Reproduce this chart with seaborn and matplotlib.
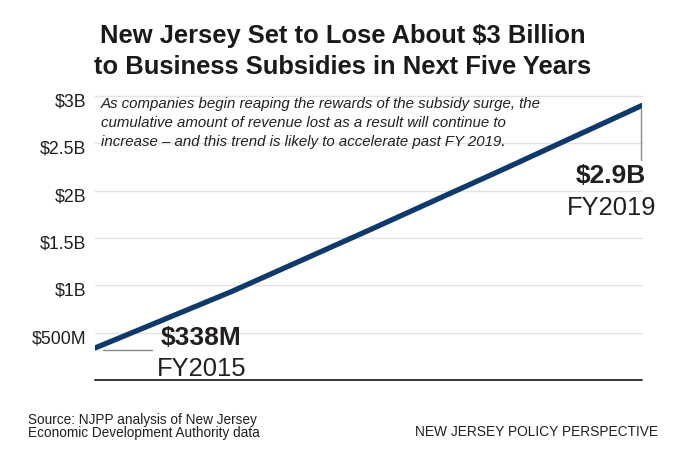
import matplotlib
matplotlib.use("Agg")
import matplotlib.pyplot as plt
import matplotlib.transforms as mtransforms
import seaborn as sns
import pandas as pd

years = ["FY2015", "FY2016", "FY2017", "FY2018", "FY2019"]
cumulative_musd = [338, 935, 1580, 2235, 2900]
ytick_values = [500, 1000, 1500, 2000, 2500, 3000]
ytick_labels = ["$500M", "$1B", "$1.5B", "$2B", "$2.5B", "$3B"]

title_text = "New Jersey Set to Lose About $3 Billion\nto Business Subsidies in Next Five Years"
note_text = ("As companies begin reaping the rewards of the subsidy surge, the\n"
             "cumulative amount of revenue lost as a result will continue to\n"
             "increase \u2013 and this trend is likely to accelerate past FY 2019.")
source_lines = ["Source: NJPP analysis of New Jersey", "Economic Development Authority data"]
brand_text = "NEW JERSEY POLICY PERSPECTIVE"

sns.set_theme(style="white")
plt.rcParams["font.family"] = ["Liberation Sans", "DejaVu Sans"]

df = pd.DataFrame({"idx": range(len(years)), "year": years, "value": cumulative_musd})

W, H = 680, 454
fig = plt.figure(figsize=(W / 100, H / 100), dpi=100)
fig.patch.set_facecolor("white")
ax = fig.add_axes([95 / W, (H - 380) / H, (642 - 95) / W, (380 - 96) / H])

navy = "#0e3a6b"
txt = "#231f20"

sns.lineplot(data=df, x="idx", y="value", ax=ax, color=navy, linewidth=3.8,
             solid_capstyle="round", solid_joinstyle="round", zorder=3)

ax.set_xlim(0, len(years) - 1)
ax.set_ylim(0, 3000)
ax.set_yticks(ytick_values)
ax.set_yticklabels(ytick_labels)
ax.set_xticks([])
ax.set_xlabel("")
ax.set_ylabel("")
for s in ax.spines.values():
    s.set_visible(False)
for v in ytick_values:
    ax.axhline(v, color="#e3e3e3", lw=1.0, zorder=1, clip_on=False)
ax.axhline(0, color="#222222", lw=1.3, zorder=2, clip_on=False)
ax.tick_params(axis="y", length=0, pad=6, labelsize=12.8, labelcolor=txt)
offset = mtransforms.ScaledTranslation(0, -4 / 100, fig.dpi_scale_trans)
for lab in ax.get_yticklabels():
    lab.set_transform(lab.get_transform() + offset)

def px(x, y):
    return x / W, 1 - y / H

fig.text(*px(343, 51.5), title_text, ha="center", va="center", fontsize=18.4,
         fontweight="bold", color="#1a1a1a", linespacing=1.33)
fig.text(*px(101, 123), note_text, ha="left", va="center", fontsize=10.8,
         style="italic", color=txt, linespacing=1.42)

# end labels
fig.text(*px(161, 338), "$" + "338M", ha="left", va="center", fontsize=19,
         fontweight="bold", color=txt)
fig.text(*px(157, 369), years[0], ha="left", va="center", fontsize=18.4, color=txt)
fig.text(*px(646, 176), "$" + "2.9B", ha="right", va="center", fontsize=19,
         fontweight="bold", color=txt)
fig.text(*px(656, 208), years[-1], ha="right", va="center", fontsize=18.4, color=txt)

# leader lines
fig.add_artist(plt.Line2D([103 / W, 152 / W], [1 - 350 / H, 1 - 350 / H],
                          color="#8a8a8a", lw=1.0))
fig.add_artist(plt.Line2D([641 / W, 641 / W], [1 - 108 / H, 1 - 160 / H],
                          color="#8a8a8a", lw=1.0))

fig.text(*px(28, 420), source_lines[0], ha="left", va="center", fontsize=9.8, color=txt)
fig.text(*px(28, 433), source_lines[1], ha="left", va="center", fontsize=9.8, color=txt)
fig.text(*px(658, 432), brand_text, ha="right", va="center", fontsize=9.9, color=txt)

fig.savefig("out.png", dpi=100, facecolor="white")
